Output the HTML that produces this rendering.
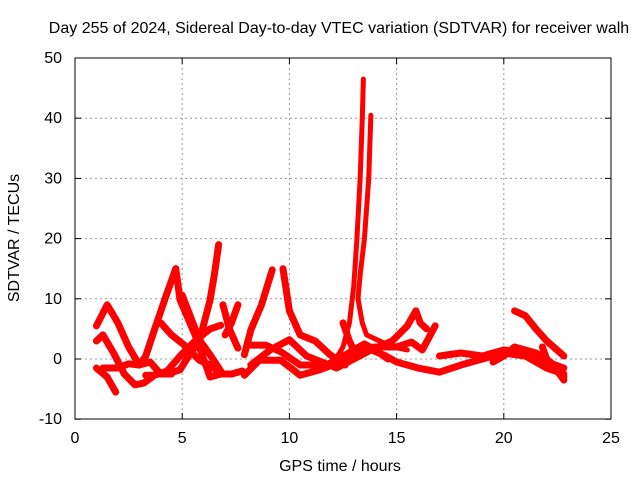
<!DOCTYPE html>
<html><head><meta charset="utf-8"><style>
body{margin:0;background:#fff}
svg text{font-family:"Liberation Sans",sans-serif;font-size:16px;fill:#000}
</style></head><body>
<svg id="c" width="640" height="480" viewBox="0 0 640 480">
<rect width="640" height="480" fill="#fff"/>
<g id="grid"></g>
<g id="series"></g>
<rect x="75" y="58" width="536" height="361" fill="none" stroke="#000"/>
<g id="ticks"></g>
<text x="339" y="33" text-anchor="middle">Day 255 of 2024, Sidereal Day-to-day VTEC variation (SDTVAR) for receiver walh</text>
<text x="340" y="471" text-anchor="middle">GPS time / hours</text>
<text x="0" y="0" text-anchor="middle" transform="translate(19,238) rotate(-90)">SDTVAR / TECUs</text>
</svg>
<script>
const xTicks=[0,5,10,15,20,25];
const yTicks=[-10,0,10,20,30,40,50];
const track1=[[1.0,5.5],[1.5,9],[2.0,6],[2.5,2],[3.0,-1],[3.5,-0.5],[4.0,-2.5],[4.5,-2.5]];
const track2=[[1.0,3],[1.3,4],[1.8,1],[2.3,-2.5],[2.8,-4.3],[3.2,-4],[3.6,-3]];
const track3=[[1.0,-1.5],[1.5,-3],[1.9,-5.5]];
const track4=[[1.3,-1.5],[2.0,-1.5],[2.5,-0.8],[3.0,-1],[3.3,0.5],[3.7,4.8],[4.2,10],[4.7,15]];
const track5=[[4.7,15],[4.9,9.8],[5.6,4],[6.1,-1],[6.3,-3],[6.8,-2.5]];
const track6=[[3.3,-2.7],[3.7,-2.7],[4.3,-2],[4.9,0.5],[5.6,3],[6.3,5],[6.8,5.6]];
const track7=[[4.0,6],[4.5,4],[5.1,2.3],[5.8,-0.2],[6.3,-1],[6.8,-2.5],[7.3,-2.5],[7.8,-2]];
const track8=[[5.0,10.6],[5.8,3.2],[6.3,0.7],[6.8,-2]];
const track9=[[6.7,19],[6.5,14],[6.3,9.8],[5.8,3],[5.3,0.5],[4.9,-1.8],[4.3,-2.5]];
const track10=[[6.9,9],[7.2,5],[7.6,1.8]];
const track11=[[7.6,9],[7.3,6],[7.0,4]];
const track12=[[9.2,14.8],[8.7,9],[8.2,4.8],[7.9,0.7]];
const track13=[[9.7,15],[10.0,8],[10.5,4],[11.2,3],[11.9,0.7],[12.6,-1]];
const track14=[[7.9,-2.7],[8.6,-0.2],[9.6,-0.2],[10.5,-2.7],[11.4,-1.8],[12.4,-0.5],[13.0,1],[13.5,2]];
const track15=[[8.1,2.3],[8.9,2.3],[9.6,1.2],[10.5,-1],[11.7,-1],[12.3,0],[13.0,1.5],[14.0,2],[15.0,2],[15.7,2.8],[16.2,1.5],[16.8,5.5]];
const track16=[[8.2,-1],[9.1,1.5],[10,3.2],[10.8,0.5],[11.5,-0.5],[12.2,-1.5],[13.0,0],[13.8,1.5],[14.8,3],[15.5,5.5],[15.9,8],[16.1,6],[16.4,5]];
const spikeA=[[12.0,-1],[12.5,2],[12.8,6],[13.0,12],[13.15,20],[13.3,30],[13.4,40],[13.45,46.5]];
const spikeB=[[13.8,40.5],[13.7,30],[13.5,20],[13.3,14],[13.2,10],[13.4,6],[13.6,4],[14.2,3],[14.8,2],[15.5,1.5]];
const track17=[[12.5,6],[12.8,3],[13.0,1.5],[13.5,2.5],[14.0,1.5],[14.6,0]];
const track18=[[13.5,2],[14.5,0.5],[15.0,-0.5],[16.0,-1.5],[17.0,-2.2],[18.0,-1],[19.0,0],[20.0,1],[21.0,0.5],[22.0,-1.5],[22.8,-2.5]];
const track19=[[17.0,0.5],[18.0,1],[19.0,0.5],[20.0,1.5],[21.0,0.8],[22.0,-0.5],[22.8,-1.5]];
const track20=[[20.5,8],[21.0,7.2],[21.5,5],[22.0,3],[22.8,0.5]];
const track21=[[19.5,-0.5],[20.0,0.5],[20.5,2],[21.5,1],[22.0,0],[22.5,-1.5],[22.8,-3]];
const track22=[[21.8,2],[22.1,-1],[22.5,-2],[22.8,-3.5]];
const tracks=[track1,track2,track3,track4,track5,track6,track7,track8,track9,track10,track11,track12,track13,track14,track15,track16,spikeA,spikeB,track17,track18,track19,track20,track21,track22];
const NS='http://www.w3.org/2000/svg';
const X=v=>75+v*(536/25);
const Y=v=>359-v*6.02;
const grid=document.getElementById('grid'),ticks=document.getElementById('ticks'),ser=document.getElementById('series');
function mk(t,a,p){const e=document.createElementNS(NS,t);for(const k in a)e.setAttribute(k,a[k]);p.appendChild(e);return e;}
xTicks.forEach(v=>{
  if(v>0&&v<25){const g=mk('line',{x1:X(v),x2:X(v),y1:58,y2:419,stroke:'#999','stroke-dasharray':'2,3'},grid);
  
  }
  mk('line',{x1:X(v),x2:X(v),y1:419,y2:413,stroke:'#000'},ticks);
  mk('line',{x1:X(v),x2:X(v),y1:58,y2:64,stroke:'#000'},ticks);
  const t=mk('text',{x:X(v),y:443,'text-anchor':'middle'},ticks);t.textContent=v;
  
  
});
yTicks.forEach(v=>{
  if(v>-10&&v<50){const g=mk('line',{x1:75,x2:611,y1:Y(v),y2:Y(v),stroke:'#999','stroke-dasharray':'2,3'},grid);
  
  }
  mk('line',{x1:75,x2:81,y1:Y(v),y2:Y(v),stroke:'#000'},ticks);
  mk('line',{x1:611,x2:605,y1:Y(v),y2:Y(v),stroke:'#000'},ticks);
  const t=mk('text',{x:62,y:Y(v)+5,'text-anchor':'end'},ticks);t.textContent=v;
  
  
});
tracks.forEach((tr,i)=>{
  const spike=(tr===spikeA||tr===spikeB);
  const p=mk('polyline',{points:tr.map(d=>X(d[0])+','+Y(d[1])).join(' '),fill:'none',stroke:'#f00','stroke-width':spike?5:7,'stroke-linejoin':'round','stroke-linecap':'round'},ser);
  
  
});
</script>
</body></html>
